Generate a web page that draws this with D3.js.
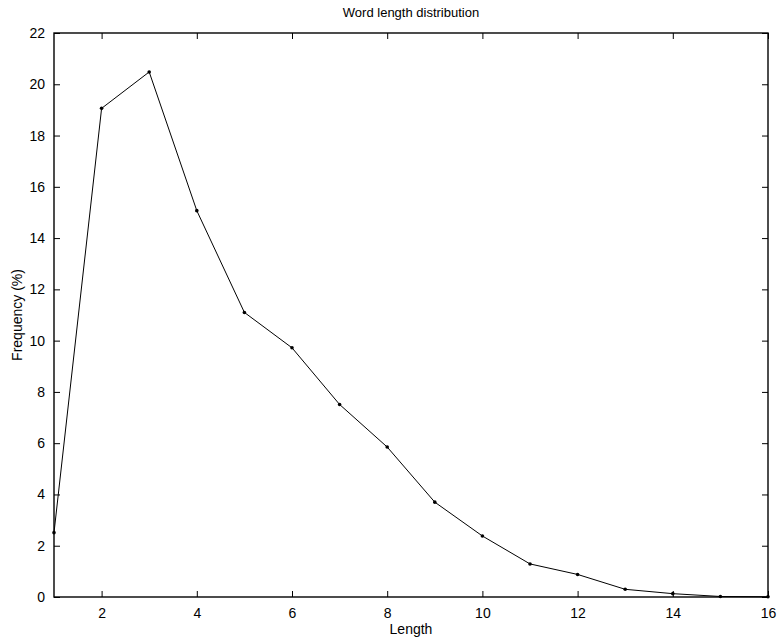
<!DOCTYPE html>
<html>
<head>
<meta charset="utf-8">
<script src="https://cdn.jsdelivr.net/npm/d3@7/dist/d3.min.js"></script>
<style>
  body { margin: 0; background: #fff; }
  text { font-family: "Liberation Sans", Arial, sans-serif; fill: #000; }
</style>
</head>
<body>
<div id="root"></div>
<script>
// word lengths and their frequency (%)
var lengths = [1, 2, 3, 4, 5, 6, 7, 8, 9, 10, 11, 12, 13, 14, 15, 16];
var freqs = [2.51, 19.06, 20.48, 15.07, 11.10, 9.72, 7.51, 5.85, 3.70, 2.38, 1.29, 0.88, 0.30, 0.13, 0.02, 0.01];
var xTicks = [2, 4, 6, 8, 10, 12, 14, 16];
var yTicks = [0, 2, 4, 6, 8, 10, 12, 14, 16, 18, 20, 22];

var w = 778, h = 641;
var pL = 54, pR = 768, pT = 33, pB = 597;

var x = d3.scaleLinear().domain([1, 16]).range([pL, pR]);
var y = d3.scaleLinear().domain([0, 22]).range([pB, pT]);

var svg = d3.select("#root").append("svg").attr("width", w).attr("height", h);

// frame
svg.append("rect").attr("x", pL).attr("y", pT)
  .attr("width", pR - pL).attr("height", pB - pT)
  .style("fill", "none").style("stroke", "#000").style("stroke-width", 1.4);

// axes with inward ticks
var fs = "14px";
var bx = svg.append("g").attr("transform", "translate(0," + pB + ")")
  .call(d3.axisBottom(x).tickValues(xTicks).tickSizeInner(-6).tickSizeOuter(0).tickPadding(11));
var tx = svg.append("g").attr("transform", "translate(0," + pT + ")")
  .call(d3.axisTop(x).tickValues(xTicks).tickSizeInner(-6).tickSizeOuter(0).tickFormat(""));
var ly = svg.append("g").attr("transform", "translate(" + pL + ",0)")
  .call(d3.axisLeft(y).tickValues(yTicks).tickSizeInner(-6).tickSizeOuter(0).tickPadding(9));
var ry = svg.append("g").attr("transform", "translate(" + pR + ",0)")
  .call(d3.axisRight(y).tickValues(yTicks).tickSizeInner(-6).tickSizeOuter(0).tickFormat(""));
[bx, tx, ly, ry].forEach(function(g) {
  g.select(".domain").remove();
  g.selectAll("line").style("stroke", "#000");
  g.selectAll("text").style("font-size", fs).style("font-family", "'Liberation Sans', Arial, sans-serif");
});

// line
var line = d3.line().x(function(d, i) { return x(lengths[i]); }).y(function(d) { return y(d); });
svg.append("path").datum(freqs).attr("d", line)
  .style("fill", "none").style("stroke", "#000").style("stroke-width", 1);

svg.selectAll("circle.pt").data(freqs).enter().append("circle").attr("class", "pt")
  .attr("cx", function(d, i) { return x(lengths[i]); })
  .attr("cy", function(d) { return y(d); })
  .attr("r", 1.8).style("fill", "#000");

// labels
svg.append("text").attr("x", (pL + pR) / 2).attr("y", 17).attr("text-anchor", "middle")
  .style("font-size", "13px").text("Word length distribution");
svg.append("text").attr("x", (pL + pR) / 2).attr("y", 634).attr("text-anchor", "middle")
  .style("font-size", "14px").text("Length");
svg.append("text").attr("transform", "translate(22," + (pT + pB) / 2 + ") rotate(-90)")
  .attr("text-anchor", "middle").style("font-size", "14px").text("Frequency (%)");
</script>
</body>
</html>
